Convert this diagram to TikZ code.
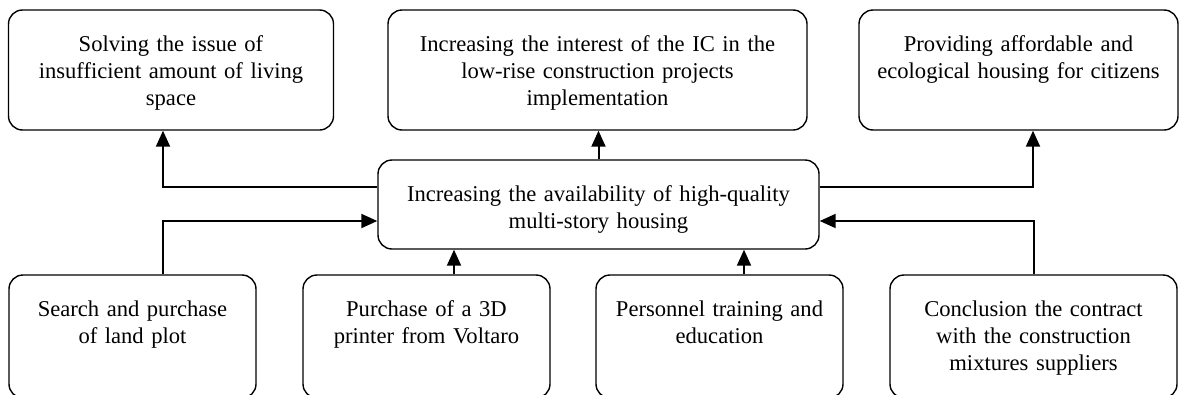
\documentclass[tikz,border=0pt]{standalone}
\usepackage{fontspec}
\setmainfont{Liberation Serif}
\usepackage{tikz}
\usetikzlibrary{arrows.meta}
\tikzstyle{goal} = [rectangle, rounded corners=14pt, draw=black, line width=1.4pt, align=center, inner xsep=6pt, inner ysep=25pt, text height=16pt, text depth=54pt]
\tikzstyle{hub} = [goal, text depth=23pt]
\tikzstyle{action} = [goal, text depth=57pt, text width=235pt]
\tikzstyle{arrow} = [line width=2pt, -{Triangle[length=16pt,width=14pt]}]

\begin{document}
\begin{tikzpicture}[x=1pt, y=-1pt, font=\fontsize{22.6}{27}\selectfont]

    \clip (0,0) rectangle (1180,394);

    \node (goalA) [goal, text width=313pt] at (171,70) {Solving the issue of\\insufficient amount of living\\space};
    \node (goalB) [goal, text width=407pt] at (597.5,70) {Increasing the interest of the IC in the\\low-rise construction projects\\implementation};
    \node (goalC) [goal, text width=307pt] at (1018.5,70) {Providing affordable and\\ecological housing for citizens};
    \node (hub) [hub, text width=429pt] at (598.5,204.5) {Increasing the availability of high-quality\\multi-story housing};
    \node (stepA) [action] at (132.5,336.5) {Search and purchase\\of land plot};
    \node (stepB) [action] at (426.5,336.5) {Purchase of a 3D\\printer from Voltaro};
    \node (stepC) [action] at (719.5,336.5) {Personnel training and\\education};
    \node (stepD) [action, text width=275pt] at (1033.5,336.5) {Conclusion the contract\\with the construction\\mixtures suppliers};

    \draw [arrow] ([yshift=17.5pt]hub.west) -| ([xshift=-8pt]goalA.south);
    \draw [arrow] (hub.north) -- (hub.north |- goalB.south);
    \draw [arrow] ([yshift=17.5pt]hub.east) -| ([xshift=14.5pt]goalC.south);
    \draw [arrow] ([xshift=30.5pt]stepA.north) |- ([yshift=-16.5pt]hub.west);
    \draw [arrow] ([xshift=27.5pt]stepB.north) -- ([xshift=27.5pt]stepB.north |- hub.south);
    \draw [arrow] ([xshift=24.5pt]stepC.north) -- ([xshift=24.5pt]stepC.north |- hub.south);
    \draw [arrow] (stepD.north) |- ([yshift=-16.5pt]hub.east);

\end{tikzpicture}
\end{document}
